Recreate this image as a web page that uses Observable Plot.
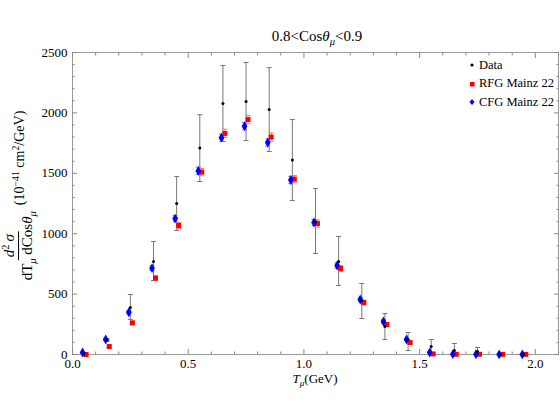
<!DOCTYPE html>
<html>
<head>
<meta charset="utf-8">
<script src="https://cdn.jsdelivr.net/npm/d3@7"></script>
<script src="https://cdn.jsdelivr.net/npm/@observablehq/plot@0.6"></script>
<style>
  body { margin: 0; background: #fff; }
  #wrap { position: relative; width: 560px; height: 420px; font-family: "Liberation Serif", "DejaVu Serif", serif; color: #000; }
  #title { position: absolute; top: 28px; left: 0; width: 634px; text-align: center; font-size: 15px; }
  #xlabel { position: absolute; top: 371px; left: 0; width: 630px; text-align: center; font-size: 13px; }
  #ylabel { position: absolute; left: 19px; top: 197px; transform: translate(-50%, -50%) rotate(-90deg); white-space: nowrap; display: flex; align-items: center; font-size: 14px; }
  .frac { display: inline-flex; flex-direction: column; align-items: center; font-size: 15px; margin-right: 3px; }
  .frac .num { border-bottom: 1px solid #000; padding: 0 3px; line-height: 17px; }
  .frac .den { line-height: 17px; padding: 0 3px; }
  sub { font-size: 70%; vertical-align: -0.35em; }
  sup { font-size: 70%; vertical-align: 0.5em; }
  #legend { position: absolute; left: 468px; top: 56px; font-size: 12.5px; z-index: 2; }
  #legend .row { height: 18.5px; display: flex; align-items: center; white-space: nowrap; }
  #legend .mk { width: 8px; display: inline-flex; justify-content: center; margin-right: 3px; }
  svg.plot { position: absolute; left: 0; top: 0; }
  svg.plot text { font-family: "Liberation Serif", "DejaVu Serif", serif; }
</style>
</head>
<body>
<div id="wrap">
  <div id="title">0.8&lt;Cos<i>θ</i><sub><i>μ</i></sub>&lt;0.9</div>
  <div id="xlabel"><i>T</i><sub><i>μ</i></sub>(GeV)</div>
  <div id="ylabel">
    <span class="frac"><span class="num"><i>d</i><sup>2</sup>&thinsp;<i>σ</i></span><span class="den">dT<sub><i>μ</i></sub> dCos<i>θ</i><sub><i>μ</i></sub></span></span>
    <span>(10<sup>−41</sup> cm<sup>2</sup>/GeV)</span>
  </div>
  <div id="legend">
    <div class="row"><span class="mk"><svg width="6" height="6"><circle cx="3" cy="3" r="1.6" fill="#000"/></svg></span>Data</div>
    <div class="row"><span class="mk"><svg width="6" height="6"><rect x="1" y="1" width="4.5" height="4.5" fill="#f00"/></svg></span>RFG Mainz 22</div>
    <div class="row"><span class="mk"><svg width="8" height="8"><path d="M4,1L6.5,4L4,7L1.5,4Z" fill="#00f"/></svg></span>CFG Mainz 22</div>
  </div>
</div>
<script>
// ---- data ----
const tmu = [0.05,0.15,0.25,0.35,0.45,0.55,0.65,0.75,0.85,0.95,1.05,1.15,1.25,1.35,1.45,1.55,1.65,1.75,1.85,1.95];
const dataVal = [5,120,390,770,1250,1710,2078,2094,2028,1610,1100,770,445,232,124,66,33,25,3,2];
const dataLo  = [0,110,290,612,1026,1432,1763,1771,1680,1275,836,571,298,124,33,0,0,0,0,0];
const dataHi  = [10,130,497,935,1473,1985,2392,2417,2375,1945,1374,977,588,339,182,124,91,58,5,4];
const rfgVal = [0,66,262,632,1068,1510,1830,1945,1800,1452,1084,712,430,248,99,5,2,2,1,1];
const rfgErr = [3,8,15,20,25,30,35,35,35,30,30,25,20,15,10,3,2,2,1,1];
const cfgVal = [17,124,350,715,1125,1520,1795,1890,1755,1445,1093,737,455,273,124,17,3,2,1,1];
const cfgErr = [3,8,15,20,25,30,30,30,30,30,25,22,18,13,9,3,2,2,1,1];
const xMajor = [0,0.5,1,1.5,2];
const xMinor = [0.1,0.2,0.3,0.4,0.6,0.7,0.8,0.9,1.1,1.2,1.3,1.4,1.6,1.7,1.8,1.9,2.1];
const yMajor = [0,500,1000,1500,2000,2500];
const yMinor = [100,200,300,400,600,700,800,900,1100,1200,1300,1400,1600,1700,1800,1900,2100,2200,2300,2400];

const dataRows = tmu.map((x,i)=>({x, y:dataVal[i], lo:dataLo[i], hi:dataHi[i]}));
const rfgRows = tmu.map((x,i)=>({x, y:rfgVal[i], lo:rfgVal[i]-rfgErr[i], hi:rfgVal[i]+rfgErr[i]}));
const cfgRows = tmu.map((x,i)=>({x, y:cfgVal[i], lo:cfgVal[i]-cfgErr[i], hi:cfgVal[i]+cfgErr[i]}));

const hline = {draw(ctx, size){ const r = Math.sqrt(size/Math.PI); ctx.moveTo(-r,0); ctx.lineTo(r,0); }};

const tickStroke = "#888";
const font = "'Liberation Serif', serif";
function capMarks(rows, color, dx, r, sw) {
  return [
    Plot.ruleX(rows, {x:"x", y1:"lo", y2:"hi", stroke:color, strokeWidth:sw, dx}),
    Plot.dot(rows, {x:"x", y:"lo", symbol:hline, r, stroke:color, strokeWidth:sw, fill:"none", dx}),
    Plot.dot(rows, {x:"x", y:"hi", symbol:hline, r, stroke:color, strokeWidth:sw, fill:"none", dx})
  ];
}
function ticksOnly(axis, anchor, ticks, size) {
  return axis({anchor, ticks, tickSize:size, fill:"none", stroke:tickStroke, label:null});
}

const chart = Plot.plot({
  width: 560, height: 420,
  marginLeft: 72, marginRight: 2, marginTop: 52, marginBottom: 66,
  style: {fontFamily: font, fontSize: "12px", color: "#000", background: "transparent"},
  x: {domain: [0, 2.1]},
  y: {domain: [0, 2500]},
  marks: [
    Plot.frame({stroke: "#999"}),
    // inward ticks, all four sides
    ticksOnly(Plot.axisX, "bottom", xMajor, -5),
    ticksOnly(Plot.axisX, "bottom", xMinor, -2.5),
    ticksOnly(Plot.axisX, "top", xMajor, -5),
    ticksOnly(Plot.axisX, "top", xMinor, -2.5),
    ticksOnly(Plot.axisY, "left", yMajor, -5),
    ticksOnly(Plot.axisY, "left", yMinor, -2.5),
    ticksOnly(Plot.axisY, "right", yMajor, -5),
    ticksOnly(Plot.axisY, "right", yMinor, -2.5),
    // labels
    Plot.axisX({anchor:"bottom", ticks:xMajor, tickSize:0, tickPadding:4, tickFormat:d3.format(".1f"), label:null, fontSize:13}),
    Plot.axisY({anchor:"left", ticks:yMajor, tickSize:0, tickPadding:5, tickFormat:d => String(d), label:null, fontSize:13}),
    // error bars
    ...capMarks(dataRows, "#777", 0, 2.5, 1),
    ...capMarks(rfgRows, "#f77", 2, 2.5, 1),
    ...capMarks(cfgRows, "#77f", -1.5, 2.5, 1),
    // points
    Plot.dot(rfgRows, {x:"x", y:"y", symbol:"square", r:2.8, fill:"#f00", dx:2}),
    Plot.dot(cfgRows, {x:"x", y:"y", symbol:"diamond", r:3, fill:"#00f", dx:-1.5}),
    Plot.dot(dataRows, {x:"x", y:"y", r:1.5, fill:"#000"})
  ]
});
chart.classList.add("plot");
document.getElementById("wrap").prepend(chart);
</script>
</body>
</html>
